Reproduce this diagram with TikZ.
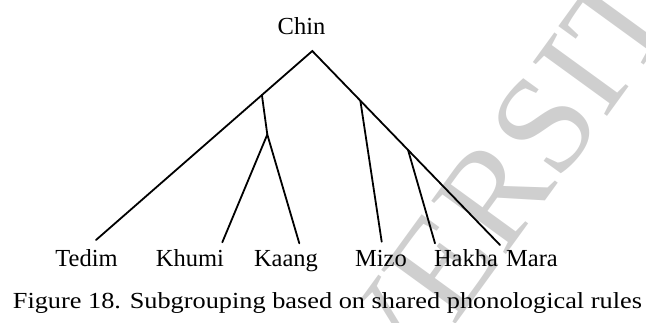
\documentclass[tikz,border=0pt]{standalone}
\usepackage{fontspec}
\setmainfont{Liberation Serif}
\usetikzlibrary{calc}
\begin{document}
\begin{tikzpicture}[x=1pt, y=-1pt,
  branch/.style={line width=1.8pt, line cap=round, line join=miter},
  lang/.style={font=\fontsize{24.5}{28}\selectfont, inner sep=0pt, anchor=base},
  wmtext/.style={text=black!19, inner sep=0pt, font=\fontsize{140}{140}\selectfont}]
\useasboundingbox (0,0) rectangle (646,322);

% faint diagonal watermark behind the tree
\begin{scope}
  \clip (0,0) rectangle (646,322);
  \node[wmtext, rotate=54] (wmark) at (458,244.5) {UNIVERSITY};
\end{scope}

% root and leaf labels
\node[lang] (chin)  at (301.5,34.5) {Chin};
\node[lang] (tedim) at (86.5,266)   {Tedim};
\node[lang] (khumi) at (190,266)    {Khumi};
\node[lang] (kaang) at (286,266)    {Kaang};
\node[lang] (mizo)  at (381,266)    {Mizo};
\node[lang] (hakha) at (466,266)    {Hakha};
\node[lang] (mara)  at (532,266)    {Mara};

% branch points and branch ends
\coordinate (top)      at (312.3,51);
\coordinate (tedimEnd) at (96,240);
\coordinate (maraEnd)  at (500,245);
\coordinate (khumiEnd) at (222.3,242.3);
\coordinate (kaangEnd) at (299.3,243.3);
\coordinate (mizoEnd)  at (381.7,241.7);
\coordinate (hakhaEnd) at (435,243.3);
\coordinate (jl)  at ($(top)!0.233!(tedimEnd)$);
\coordinate (jl2) at (267.3,134.5);
\coordinate (jr1) at ($(top)!0.256!(maraEnd)$);
\coordinate (jr2) at ($(top)!0.51!(maraEnd)$);

% tree
\draw[branch] (tedimEnd) -- (top) -- (maraEnd);
\draw[branch] (jl) -- (jl2);
\draw[branch] (khumiEnd) -- (jl2) -- (kaangEnd);
\draw[branch] (jr1) -- (mizoEnd);
\draw[branch] (jr2) -- (hakhaEnd);

% caption
\node[inner sep=0pt, anchor=base west] (caption) at (12.7,308)
  {\resizebox{629pt}{\height}{\fontsize{23}{26}\selectfont Figure 18. Subgrouping based on shared phonological rules}};
\end{tikzpicture}
\end{document}
